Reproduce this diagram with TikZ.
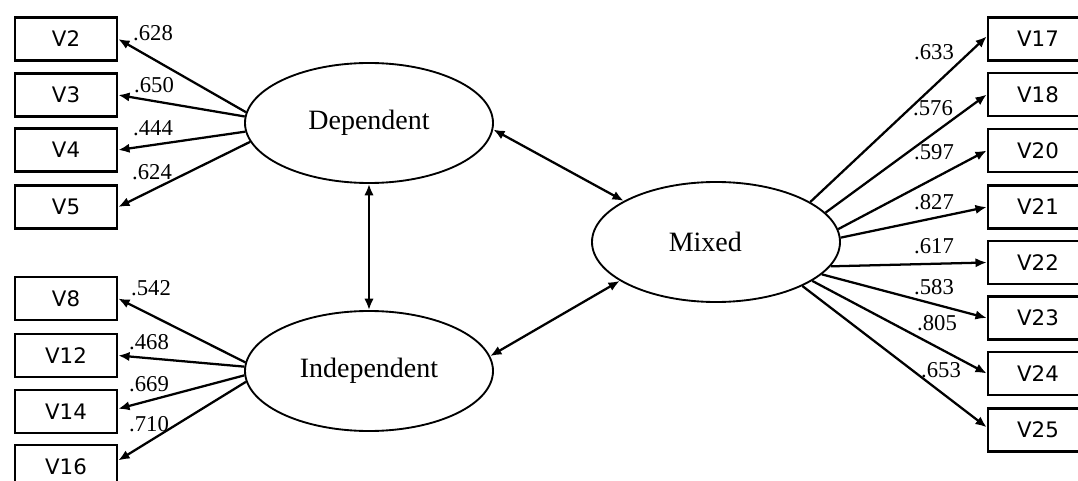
\documentclass[tikz,border=0pt]{standalone}
\usepackage{fontspec}
\setmainfont{Liberation Serif}
\newfontfamily\boxfont{DejaVu Sans}
\usetikzlibrary{shapes.geometric,arrows.meta}
\begin{document}
\begin{tikzpicture}[x=0.75pt,y=-0.75pt,
  obs/.style={draw,line width=1.8pt,minimum width=76.5pt,minimum height=32.25pt,inner sep=0pt,font=\boxfont\fontsize{16}{19}\selectfont},
  obsr/.style={obs,minimum width=75pt},
  lat/.style={draw,ellipse,line width=1.4pt,minimum width=186pt,minimum height=90pt,inner sep=0pt,font=\fontsize{21}{25}\selectfont},
  ld/.style={inner sep=0pt,font=\fontsize{17}{20}\selectfont},
  arr/.style={line width=1.7pt,-{Latex[length=8.5pt,width=7pt]}},
  darr/.style={line width=1.7pt,{Latex[length=8.5pt,width=7pt]}-{Latex[length=8.5pt,width=7pt]}}
]
\useasboundingbox (0,0) rectangle (1078,481);
\clip (0,0) rectangle (1078,481);

% latent variables
\node[lat] (dep) at (369,123) {Dependent};
\node[lat] (ind) at (369,371) {\raisebox{4pt}{Independent}};
\node[lat] (mix) at (716,242) {Mixed\kern16pt};

% left observed
\node[obs] (v2) at (66,39) {V2};
\node[obs] (v3) at (66,95) {V3};
\node[obs] (v4) at (66,150) {V4};
\node[obs] (v5) at (66,207) {V5};
\node[obs] (v8) at (66,298.5) {V8};
\node[obs] (v12) at (66,355.5) {V12};
\node[obs] (v14) at (66,411.5) {V14};
\node[obs] (v16) at (66,466.5) {V16};

% right observed
\node[obsr] (v17) at (1038,39) {V17};
\node[obsr] (v18) at (1038,94.5) {V18};
\node[obsr] (v20) at (1038,150.5) {V20};
\node[obsr] (v21) at (1038,207) {V21};
\node[obsr] (v22) at (1038,262.5) {V22};
\node[obsr] (v23) at (1038,318) {V23};
\node[obsr] (v24) at (1038,373.5) {V24};
\node[obsr] (v25) at (1038,430) {V25};

% loadings
\draw[arr] (dep.175) -- (v2.east);
\draw[arr] (dep.177.5) -- (v3.east);
\draw[arr] (dep.184) -- (v4.east);
\draw[arr] (dep.189) -- (v5.east);
\draw[arr] (ind.176.5) -- (v8.east);
\draw[arr] (ind.178.5) -- (v12.east);
\draw[arr] (ind.182.5) -- ([yshift=2pt]v14.east);
\draw[arr] (ind.185) -- ([yshift=4.5pt]v16.east);

\draw[arr] (mix.23.5) -- ([yshift=2pt]v17.west);
\draw[arr] (mix.15.5) -- (v18.west);
\draw[arr] (mix.6.5) -- (v20.west);
\draw[arr] (mix.2.5) -- (v21.west);
\draw[arr] (mix.-12.5) -- (v22.west);
\draw[arr] (mix.-17) -- (v23.west);
\draw[arr] (mix.-22.5) -- (v24.west);
\draw[arr] (mix.-27.5) -- ([yshift=2pt]v25.west);

% correlations
\draw[darr] (dep.south) -- (ind.north);
\draw[darr] (dep.-3) -- (mix.156);
\draw[darr] (ind.7) -- (mix.202);

% labels
\node[ld] (l2) at (153,33) {.628};
\node[ld] (l3) at (154,85) {.650};
\node[ld] (l4) at (153,128) {.444};
\node[ld] (l5) at (152,172) {.624};
\node[ld] (l8) at (151,288) {.542};
\node[ld] (l12) at (149,342) {.468};
\node[ld] (l14) at (149,384) {.669};
\node[ld] (l16) at (149,424) {.710};
\node[ld] (l17) at (934,52) {.633};
\node[ld] (l18) at (933,108) {.576};
\node[ld] (l20) at (934,152) {.597};
\node[ld] (l21) at (934,202) {.827};
\node[ld] (l22) at (934,246) {.617};
\node[ld] (l23) at (934,287) {.583};
\node[ld] (l24) at (937,323) {.805};
\node[ld] (l25) at (941,370) {.653};
\end{tikzpicture}
\end{document}
